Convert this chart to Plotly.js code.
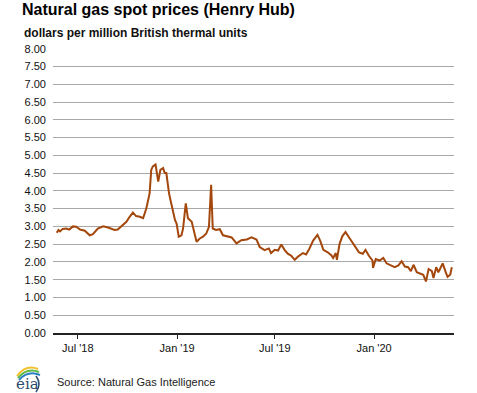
<!DOCTYPE html>
<html>
<head>
<meta charset="utf-8">
<script src="https://cdn.plot.ly/plotly-3.0.1.min.js"></script>
<style>html,body{margin:0;padding:0;background:#fff;}#chart{width:477px;height:393px;}</style>
</head>
<body>
<div id="chart"></div>
<script>
// Henry Hub spot price, dollars per MMBtu
const dates = [
'2018-05-23','2018-05-26','2018-05-29','2018-06-03','2018-06-10','2018-06-15','2018-06-22','2018-06-28','2018-07-05','2018-07-14','2018-07-23','2018-07-29',
'2018-08-07','2018-08-17','2018-08-26','2018-09-07','2018-09-13','2018-09-20','2018-09-29','2018-10-05','2018-10-11',
'2018-10-17','2018-10-24','2018-10-30','2018-11-05','2018-11-11','2018-11-14','2018-11-17','2018-11-22','2018-11-27',
'2018-12-01','2018-12-06','2018-12-09','2018-12-12','2018-12-17','2018-12-21','2018-12-28','2018-12-31',
'2019-01-04','2019-01-09','2019-01-12','2019-01-17','2019-01-21','2019-01-28','2019-02-01','2019-02-06','2019-02-12',
'2019-02-18','2019-02-24','2019-03-01','2019-03-05','2019-03-08','2019-03-14','2019-03-21','2019-03-27','2019-04-02',
'2019-04-12','2019-04-21','2019-04-30','2019-05-10','2019-05-19','2019-05-28','2019-06-03','2019-06-12','2019-06-20',
'2019-06-24','2019-07-01','2019-07-07','2019-07-13','2019-07-19','2019-07-25','2019-07-31','2019-08-07','2019-08-13',
'2019-08-22','2019-08-28','2019-09-03','2019-09-10','2019-09-18','2019-09-23','2019-09-29','2019-10-07','2019-10-14',
'2019-10-17','2019-10-22','2019-10-24','2019-10-29','2019-11-03','2019-11-09','2019-11-15','2019-11-21','2019-11-28',
'2019-12-04','2019-12-11','2019-12-16','2019-12-22','2019-12-29','2019-12-30',
'2020-01-04','2020-01-11','2020-01-18','2020-01-24','2020-02-02','2020-02-08','2020-02-15','2020-02-21','2020-02-27',
'2020-03-04','2020-03-09','2020-03-14','2020-03-20','2020-03-26','2020-04-01','2020-04-06','2020-04-11','2020-04-17',
'2020-04-20','2020-04-25','2020-04-29','2020-05-02','2020-05-07','2020-05-12','2020-05-16','2020-05-21','2020-05-24'
];
const prices = [
2.82,2.90,2.86,2.93,2.94,2.91,3.00,2.99,2.91,2.88,2.75,2.78,
2.94,3.00,2.97,2.90,2.91,3.00,3.13,3.27,3.39,
3.29,3.27,3.23,3.51,3.93,4.59,4.69,4.74,4.26,
4.59,4.64,4.50,4.50,3.93,3.65,3.18,3.08,
2.71,2.75,2.94,3.65,3.23,3.13,2.85,2.57,2.66,
2.71,2.80,2.99,4.17,2.94,2.90,2.92,2.75,2.73,
2.69,2.52,2.61,2.63,2.69,2.63,2.42,2.33,2.38,
2.25,2.34,2.32,2.49,2.34,2.23,2.18,2.06,2.15,
2.25,2.21,2.37,2.60,2.76,2.60,2.34,2.27,2.18,
2.11,2.25,2.06,2.51,2.72,2.84,2.70,2.56,2.40,
2.27,2.23,2.34,2.18,2.04,1.83,
2.08,2.04,2.11,1.96,1.90,1.85,1.90,2.02,1.87,
1.85,1.74,1.92,1.71,1.68,1.64,1.45,1.80,1.74,
1.55,1.85,1.71,1.80,1.96,1.74,1.58,1.64,1.85
];
const xTickVals = ['2018-07-01','2019-01-01','2019-07-01','2020-01-01'];
const xTickText = ["Jul '18","Jan '19","Jul '19","Jan '20"];
const titleText = 'Natural gas spot prices (Henry Hub)';
const subtitleText = 'dollars per million British thermal units';
const sourceText = 'Source: Natural Gas Intelligence';

const font = 'Liberation Sans, Arial, sans-serif';
const trace = {
  x: dates, y: prices, type: 'scatter', mode: 'lines',
  line: {color: '#a4470c', width: 2}, hoverinfo: 'skip'
};
const layout = {
  width: 477, height: 393,
  margin: {l: 53, r: 23, t: 48, b: 60},
  paper_bgcolor: '#fff', plot_bgcolor: '#fff',
  showlegend: false,
  font: {family: font, size: 11, color: '#222'},
  title: {text: titleText, font: {family: font, size: 16, color: '#000', weight: 'bold'},
          xref: 'container', yref: 'container', x: 22/477, xanchor: 'left', y: 1 - 9/393, yanchor: 'middle'},
  xaxis: {
    type: 'date', range: ['2018-05-16', '2020-05-28'],
    tickvals: xTickVals, ticktext: xTickText,
    showgrid: false, showline: true, linecolor: '#222', linewidth: 1.5,
    ticks: 'outside', ticklen: 4, tickcolor: '#222', tickwidth: 1,
    tickfont: {family: font, size: 11, color: '#111'}, zeroline: false
  },
  yaxis: {
    range: [0, 8.02], dtick: 0.5, tick0: 0, tickformat: '.2f',
    showgrid: true, gridcolor: '#a8a8a8', gridwidth: 1,
    zeroline: false, showline: false, ticks: '', ticklabelstandoff: 6,
    tickfont: {family: font, size: 11, color: '#111'}
  },
  annotations: [
    {text: '<b>' + subtitleText + '</b>', xref: 'paper', yref: 'paper', x: (22-53)/401, y: (333-33)/285,
     xanchor: 'left', yanchor: 'middle', showarrow: false, font: {family: font, size: 12, color: '#111'}},
    {text: sourceText, xref: 'paper', yref: 'paper', x: (55-53)/401, y: (333-382)/285,
     xanchor: 'left', yanchor: 'middle', showarrow: false, font: {family: font, size: 11, color: '#222'}},
    {text: 'eia', xref: 'paper', yref: 'paper', x: (27-53)/401, y: (333-384)/285,
     xanchor: 'center', yanchor: 'middle', showarrow: false, font: {family: 'DejaVu Serif, serif', size: 15, color: '#2b4a6b'}}
  ],
  shapes: [
    {type: 'path', xref: 'paper', yref: 'paper', path: `M ${(17-53)/401} ${(333-376)/285} Q ${(26-53)/401} ${(333-364)/285} ${(38-53)/401} ${(333-369)/285}`, line: {color: '#f2c12e', width: 2}},
    {type: 'path', xref: 'paper', yref: 'paper', path: `M ${(18-53)/401} ${(333-378)/285} Q ${(27-53)/401} ${(333-367)/285} ${(39-53)/401} ${(333-372)/285}`, line: {color: '#5fb846', width: 2}},
    {type: 'path', xref: 'paper', yref: 'paper', path: `M ${(19-53)/401} ${(333-380)/285} Q ${(28-53)/401} ${(333-370)/285} ${(40-53)/401} ${(333-375)/285}`, line: {color: '#2a7fc1', width: 2}},
    {type: 'path', xref: 'paper', yref: 'paper', path: `M ${(36-53)/401} ${(333-376)/285} Q ${(42-53)/401} ${(333-384)/285} ${(36-53)/401} ${(333-392)/285}`, line: {color: '#2b4a6b', width: 1.5}}
  ]
};
Plotly.newPlot('chart', [trace], layout, {displayModeBar: false, staticPlot: true});
</script>
</body>
</html>
